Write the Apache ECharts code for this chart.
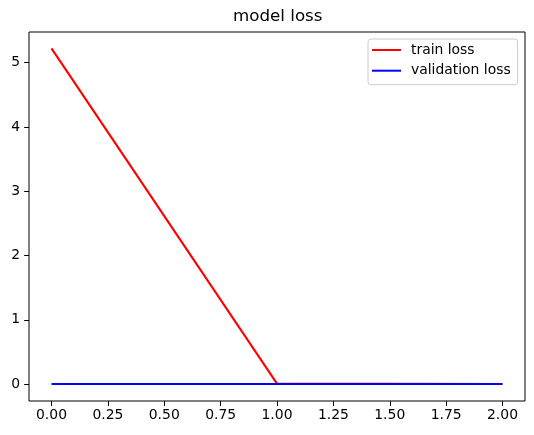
<!DOCTYPE html>
<html lang="en">
<head>
    <meta charset="UTF-8">
    <title>model loss</title>
    <style>
        html, body { margin: 0; padding: 0; background: #fff; }
        #container { width: 534px; height: 435px; }
    </style>
</head>
<body>
<div id="container"></div>
<script src="https://cdn.jsdelivr.net/npm/echarts@6/dist/echarts.min.js"></script>
<script type="text/javascript">
    // data
    var epochs = [0, 1, 2];
    var trainLoss = [5.22, 0.01, 0.004];
    var valLoss = [0.003, 0.002, 0.002];
    var xTicks = [0, 0.25, 0.5, 0.75, 1, 1.25, 1.5, 1.75, 2];
    var yTicks = [0, 1, 2, 3, 4, 5];

    function pairs(xs, ys) {
        return xs.map(function (x, i) { return [x, ys[i]]; });
    }

    var font = 'DejaVu Sans';
    var myChart = echarts.init(document.getElementById('container'));

    var tickStyle = { show: true, length: 4.9, lineStyle: { color: '#000', width: 1 } };
    var xMin = xTicks[0], xMax = xTicks[xTicks.length - 1];
    var yMin = yTicks[0], yMax = yTicks[yTicks.length - 1];

    var option = {
        animation: false,
        backgroundColor: '#fff',
        textStyle: { fontFamily: font },
        title: {
            text: 'model loss',
            left: 233,
            top: 8,
            padding: 0,
            textStyle: { fontFamily: font, fontSize: 16.7, fontWeight: 'normal', color: '#000' }
        },
        legend: {
            left: 368,
            top: 39,
            orient: 'vertical',
            icon: 'rect',
            itemWidth: 29,
            itemHeight: 2,
            itemGap: 6.7,
            padding: [4, 7, 7, 4],
            backgroundColor: '#fff',
            borderColor: '#cccccc',
            borderWidth: 1,
            borderRadius: 3,
            textStyle: { fontFamily: font, fontSize: 13.9, color: '#000', lineHeight: 14, padding: [0, 0, 0, 5] },
            data: ['train loss', 'validation loss']
        },
        grid: [
            // 0: frame (axes box)
            { left: 29, top: 32, width: 496, height: 369, show: true, borderColor: '#000', borderWidth: 1, backgroundColor: 'transparent' },
            // 1: data area, 0..2 x 0..5
            { left: 51.5, top: 62.6, width: 451, height: 321.6 },
            // 2: x ticks along the bottom spine
            { left: 51.5, top: 32, width: 451, height: 369 },
            // 3: y ticks along the left spine
            { left: 29, top: 62.6, width: 496, height: 321.6 }
        ],
        xAxis: [
            { gridIndex: 0, type: 'value', show: false, min: 0, max: 1 },
            { gridIndex: 1, type: 'value', show: false, min: xMin, max: xMax },
            {
                gridIndex: 2, type: 'value', min: xMin, max: xMax, interval: 0.25,
                axisLine: { show: false },
                splitLine: { show: false },
                axisTick: tickStyle,
                axisLabel: {
                    margin: 7, color: '#000', fontSize: 13.9, fontFamily: font,
                    formatter: function (v) { return v.toFixed(2); }
                }
            },
            { gridIndex: 3, type: 'value', show: false, min: 0, max: 1 }
        ],
        yAxis: [
            { gridIndex: 0, type: 'value', show: false, min: 0, max: 1 },
            { gridIndex: 1, type: 'value', show: false, min: yMin, max: yMax },
            { gridIndex: 2, type: 'value', show: false, min: 0, max: 1 },
            {
                gridIndex: 3, type: 'value', min: yMin, max: yMax, interval: 1,
                axisLine: { show: false },
                splitLine: { show: false },
                axisTick: tickStyle,
                axisLabel: { margin: 9, color: '#000', fontSize: 13.9, fontFamily: font }
            }
        ],
        series: [
            {
                name: 'train loss', type: 'line', xAxisIndex: 1, yAxisIndex: 1,
                data: pairs(epochs, trainLoss),
                showSymbol: false, clip: false,
                itemStyle: { color: '#ff0000' },
                lineStyle: { color: '#ff0000', width: 2.1 }
            },
            {
                name: 'validation loss', type: 'line', xAxisIndex: 1, yAxisIndex: 1,
                data: pairs(epochs, valLoss),
                showSymbol: false, clip: false,
                itemStyle: { color: '#0000ff' },
                lineStyle: { color: '#0000ff', width: 2.1 }
            }
        ]
    };

    if (option && typeof option === "object") {
        myChart.setOption(option, true);
    }
</script>
</body>
</html>
